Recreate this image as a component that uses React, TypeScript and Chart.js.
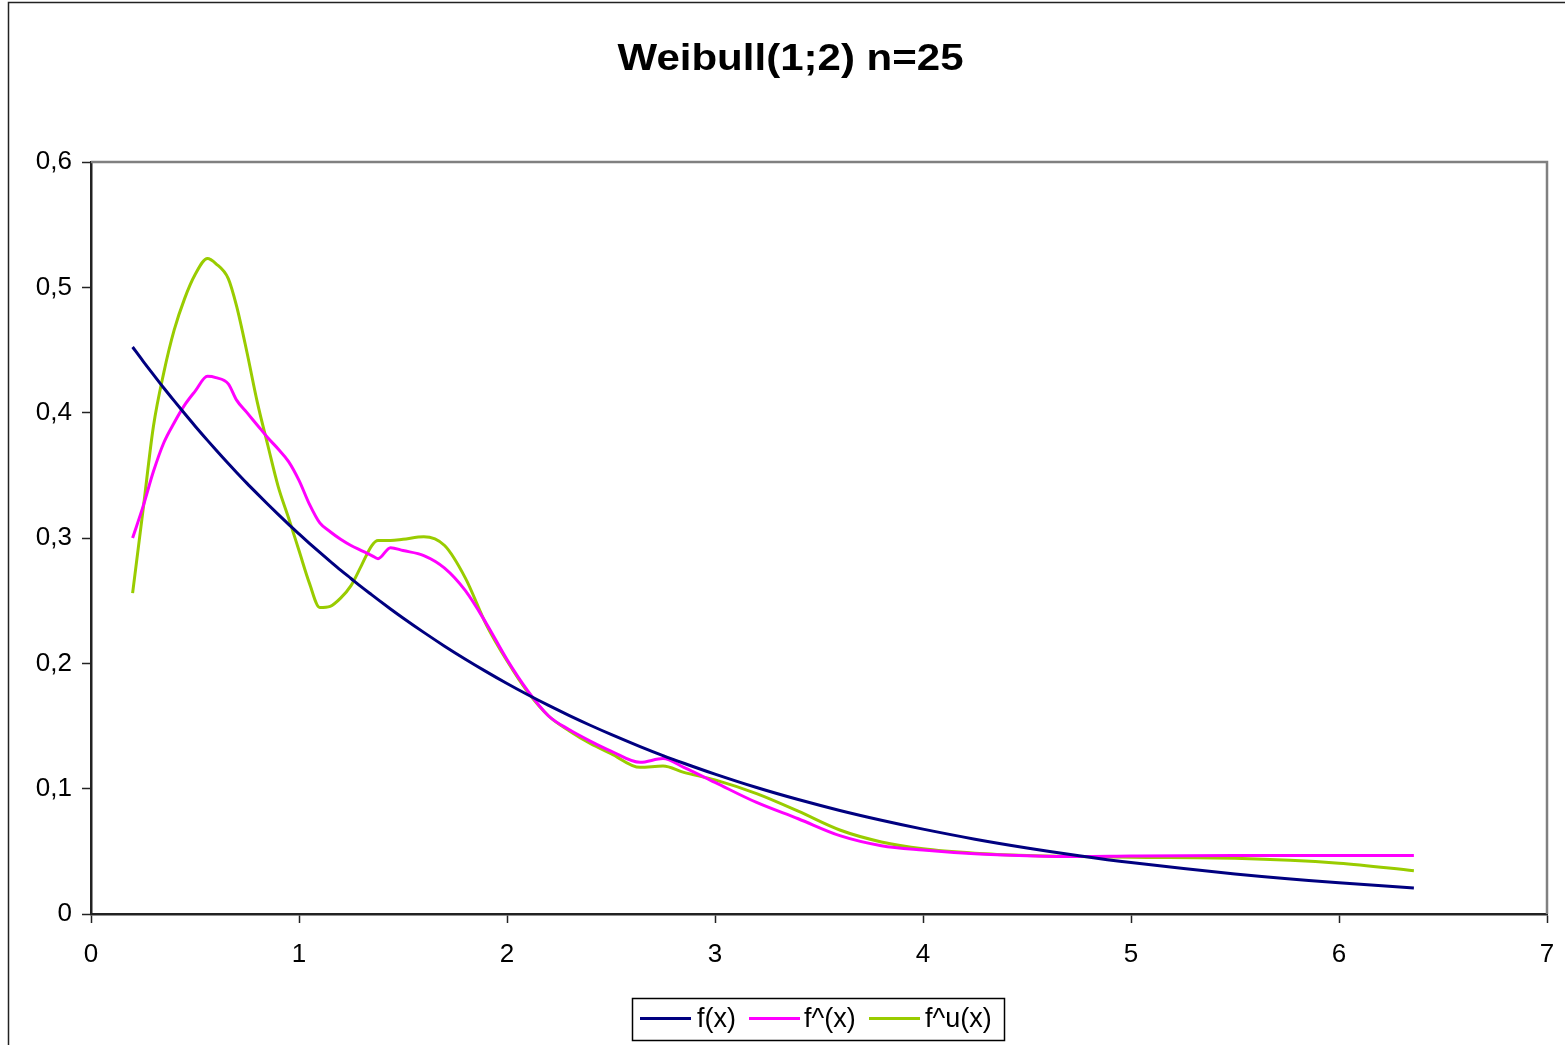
import React, { useEffect, useRef } from "react";
import { Chart, registerables } from "chart.js";

Chart.register(...registerables);

const chartTitle = "Weibull(1;2) n=25";

const xs = [
  0.2, 0.25, 0.3, 0.35, 0.4, 0.45, 0.5, 0.56, 0.6, 0.66, 0.7, 0.75, 0.8, 0.85, 0.9, 0.95,
  1.0, 1.05, 1.1, 1.15, 1.2, 1.25, 1.3, 1.35, 1.38, 1.44, 1.5, 1.6, 1.7, 1.8, 1.9, 2.0,
  2.1, 2.2, 2.3, 2.4, 2.5, 2.64, 2.75, 2.85, 3.0, 3.2, 3.4, 3.6, 3.8, 4.0, 4.25, 4.5,
  4.75, 5.0, 5.5, 6.0, 6.36,
];

const fTrue = [
  0.4524, 0.4412, 0.4304, 0.4197, 0.4094, 0.3993, 0.3894, 0.3779, 0.3704, 0.3594, 0.3523,
  0.3436, 0.3352, 0.3269, 0.3188, 0.3109, 0.3033, 0.2958, 0.2885, 0.2814, 0.2744, 0.2677,
  0.261, 0.2546, 0.2508, 0.2434, 0.2362, 0.2247, 0.2137, 0.2033, 0.1934, 0.1839, 0.1749,
  0.1664, 0.1583, 0.1506, 0.1433, 0.1336, 0.1264, 0.1203, 0.1116, 0.1009, 0.0913, 0.0826,
  0.0748, 0.0677, 0.0597, 0.0527, 0.0465, 0.041, 0.032, 0.0249, 0.0208,
];

const fHat = [
  0.3, 0.325, 0.353, 0.376, 0.392, 0.406, 0.417, 0.429, 0.428, 0.423, 0.41, 0.4, 0.39,
  0.38, 0.371, 0.361, 0.346, 0.327, 0.312, 0.305, 0.299, 0.294, 0.29, 0.286, 0.2835,
  0.2923, 0.29, 0.286, 0.276, 0.258, 0.232, 0.203, 0.178, 0.158, 0.147, 0.138, 0.13,
  0.121, 0.124, 0.117, 0.105, 0.089, 0.076, 0.0625, 0.0545, 0.051, 0.048, 0.0465,
  0.0458, 0.0462, 0.0466, 0.0466, 0.0466,
];

const fHatU = [
  0.256, 0.322, 0.389, 0.432, 0.466, 0.491, 0.51, 0.523, 0.519, 0.507, 0.485, 0.448,
  0.408, 0.374, 0.341, 0.316, 0.29, 0.264, 0.2445, 0.2455, 0.252, 0.262, 0.278, 0.294,
  0.298, 0.298, 0.299, 0.301, 0.294, 0.268, 0.231, 0.202, 0.177, 0.158, 0.146, 0.136,
  0.128, 0.117, 0.118, 0.113, 0.107, 0.096, 0.082, 0.067, 0.0575, 0.052, 0.0485, 0.0467,
  0.0458, 0.0452, 0.0444, 0.0405, 0.0346,
];

const seriesNames = ["f(x)", "f^(x)", "f^u(x)"];
const seriesColors = ["#000080", "#FF00FF", "#99CC00"];
const yTickLabels = ["0", "0,1", "0,2", "0,3", "0,4", "0,5", "0,6"];
const xTickLabels = ["0", "1", "2", "3", "4", "5", "6", "7"];

const FONT = '"Liberation Sans", Arial, sans-serif';

const framePlugin = {
  id: "frame",
  beforeDraw(chart: any) {
    const ctx = chart.ctx;
    ctx.save();
    ctx.fillStyle = "#ffffff";
    ctx.fillRect(0, 0, chart.width, chart.height);
    ctx.strokeStyle = "#222222";
    ctx.lineWidth = 1.5;
    ctx.strokeRect(8.5, 2.5, chart.width + 20, chart.height + 20);
    ctx.restore();
  },
  beforeDatasetsDraw(chart: any) {
    const { ctx, chartArea } = chart;
    ctx.save();
    ctx.strokeStyle = "#808080";
    ctx.lineWidth = 2.5;
    ctx.beginPath();
    ctx.moveTo(chartArea.left, chartArea.top);
    ctx.lineTo(chartArea.right, chartArea.top);
    ctx.lineTo(chartArea.right, chartArea.bottom);
    ctx.stroke();
    ctx.restore();
  },
  afterDraw(chart: any) {
    const ctx = chart.ctx;
    ctx.save();
    // title
    ctx.font = `bold 36px ${FONT}`;
    ctx.fillStyle = "#000000";
    ctx.textAlign = "center";
    ctx.textBaseline = "alphabetic";
    const w = ctx.measureText(chartTitle).width;
    const sx = 346 / w;
    ctx.translate(790.5, 70);
    ctx.scale(sx, 1);
    ctx.fillText(chartTitle, 0, 0);
    ctx.restore();

    // legend
    ctx.save();
    ctx.strokeStyle = "#000000";
    ctx.lineWidth = 1.5;
    ctx.strokeRect(632.5, 998.5, 372, 42);
    const lineStarts = [640, 749, 869];
    const textStarts = [697, 804, 925];
    ctx.font = `27px ${FONT}`;
    ctx.textAlign = "left";
    ctx.textBaseline = "middle";
    chart.data.datasets.forEach((ds: any, i: number) => {
      ctx.strokeStyle = ds.borderColor;
      ctx.lineWidth = 3;
      ctx.beginPath();
      ctx.moveTo(lineStarts[i], 1018.5);
      ctx.lineTo(lineStarts[i] + 51, 1018.5);
      ctx.stroke();
      ctx.fillStyle = "#000000";
      ctx.fillText(ds.label, textStarts[i], 1020);
    });
    ctx.restore();
  },
};

export default function App() {
  const canvasRef = useRef<HTMLCanvasElement | null>(null);

  useEffect(() => {
    if (!canvasRef.current) return;
    const series = [fTrue, fHat, fHatU];
    const chart = new Chart(canvasRef.current, {
      type: "line",
      data: {
        datasets: series.map((ys, i) => ({
          label: seriesNames[i],
          data: xs.map((x, j) => ({ x, y: ys[j] })),
          borderColor: seriesColors[i],
          backgroundColor: seriesColors[i],
          borderWidth: 3,
          pointRadius: 0,
          fill: false,
          cubicInterpolationMode: "monotone" as const,
        })),
      },
      options: {
        animation: false,
        responsive: false,
        maintainAspectRatio: false,
        layout: { padding: { left: 0, top: 162, right: 18, bottom: 81 } },
        plugins: {
          legend: { display: false },
          title: { display: false },
          tooltip: { enabled: false },
        },
        scales: {
          x: {
            type: "linear",
            min: 0,
            max: 7,
            afterFit: (s: any) => {
              s.height = 50;
              s.paddingRight = 8;
              s.paddingLeft = 8;
            },
            ticks: {
              stepSize: 1,
              color: "#000000",
              font: { family: FONT, size: 26 },
              padding: 16,
              maxRotation: 0,
              callback: (v: any) => xTickLabels[Math.round(Number(v))] ?? "",
            },
            grid: {
              drawOnChartArea: false,
              drawTicks: true,
              tickLength: 9,
              tickColor: "#222222",
              tickWidth: 1.5,
            },
            border: { display: true, color: "#222222", width: 2.5 },
          },
          y: {
            type: "linear",
            min: 0,
            max: 0.6,
            afterFit: (s: any) => {
              s.width = 91;
            },
            ticks: {
              stepSize: 0.1,
              color: "#000000",
              font: { family: FONT, size: 26 },
              padding: 10,
              callback: (v: any) => yTickLabels[Math.round(Number(v) * 10)] ?? "",
            },
            grid: {
              drawOnChartArea: false,
              drawTicks: true,
              tickLength: 9,
              tickColor: "#222222",
              tickWidth: 1.5,
            },
            border: { display: true, color: "#222222", width: 2.5 },
          },
        },
      },
      plugins: [framePlugin],
    });
    return () => chart.destroy();
  }, []);

  return (
    <div style={{ position: "absolute", left: 0, top: 0, width: 1565, height: 1045 }}>
      <canvas ref={canvasRef} width={1565} height={1045} style={{ display: "block" }} />
    </div>
  );
}
